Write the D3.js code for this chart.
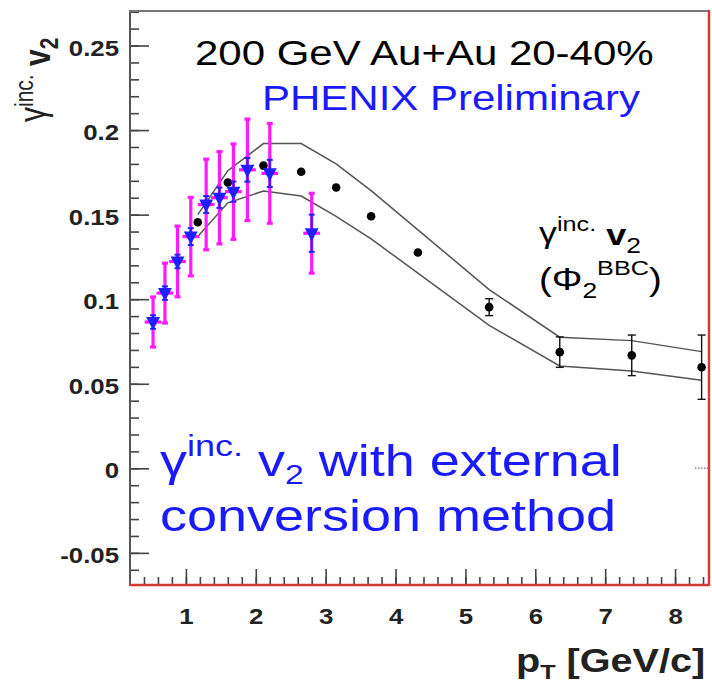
<!DOCTYPE html>
<html>
<head>
<meta charset="utf-8">
<script src="https://cdn.jsdelivr.net/npm/d3@7"></script>
<style>
  body { margin: 0; background: #fff; }
  svg { display: block; font-family: "Liberation Sans", Arial, Helvetica, sans-serif; }
</style>
</head>
<body>
<script>
// Inclusive photon v2 (conventional method, black) with systematic band
const ptConv   = [1.17, 1.60, 2.11, 2.65, 3.15, 3.65, 4.32, 5.34, 6.35, 7.38, 8.38];
const v2Conv   = [0.1455, 0.169, 0.179, 0.1754, 0.166, 0.149, 0.1276, 0.0953, 0.0687, 0.0668, 0.0598];
const errConv  = [0.0015, 0.0015, 0.0015, 0.0015, 0.0015, 0.0015, 0.002, 0.005, 0.009, 0.012, 0.019];
const bandLow  = [0.137, 0.157, 0.164, 0.161, 0.149, 0.1357, 0.1154, 0.0845, 0.0605, 0.0575, 0.052];
const bandHigh = [0.150, 0.176, 0.192, 0.192, 0.180, 0.1642, 0.141, 0.1057, 0.0775, 0.0755, 0.069];

// Inclusive photon v2 with the external conversion method (blue triangles)
const ptExt    = [0.53, 0.70, 0.88, 1.07, 1.29, 1.48, 1.68, 1.88, 2.20, 2.80];
const v2Ext    = [0.0865, 0.1036, 0.1223, 0.137, 0.156, 0.160, 0.1636, 0.1765, 0.1744, 0.139];
const sysExt   = [0.0148, 0.0177, 0.0209, 0.0232, 0.0268, 0.0273, 0.0282, 0.030, 0.0295, 0.0236];
const statExt  = [0.004, 0.004, 0.004, 0.005, 0.005, 0.006, 0.006, 0.007, 0.008, 0.011];
const xErrExt  = 0.12;

// Axis ticks
const yMajor = [-0.05, 0, 0.05, 0.1, 0.15, 0.2, 0.25];
const yMinor = d3.range(-6, 28).map(d => d / 100);
const xMajor = [1, 2, 3, 4, 5, 6, 7, 8];
const xMinor = d3.range(2, 43).map(d => d / 5);

const W = 712, H = 684;
const SX = 1.2; // horizontal glyph stretch used for all text

const svg = d3.select("body").append("svg").attr("width", W).attr("height", H);
svg.append("rect").attr("width", W).attr("height", H).attr("fill", "#fff");

const x = d3.scaleLinear().domain([0.2, 8.5]).range([130, 710]);
const y = d3.scaleLinear().domain([-0.069, 0.271]).range([585, 10]);

const fmt = v => v === 0 ? "0" : String(+v.toFixed(2));

// ---- axes ----
const axY = svg.append("g").attr("transform", "translate(130,0)");
axY.append("g").call(d3.axisLeft(y).tickValues(yMinor).tickSizeInner(-9).tickSizeOuter(0).tickFormat(""));
const axYMaj = axY.append("g").call(d3.axisLeft(y).tickValues(yMajor).tickSizeInner(-19).tickSizeOuter(0).tickPadding(11).tickFormat(fmt));
axY.selectAll(".domain").remove();
axY.selectAll(".tick line").attr("stroke", "#444").attr("stroke-width", 1.6);
axYMaj.selectAll(".tick text")
  .attr("x", 0).attr("dy", null)
  .attr("transform", "translate(-11,9.5) scale(" + SX + ",1)")
  .attr("font-size", 21.5).attr("font-weight", "bold").attr("fill", "#222")
  .attr("font-family", "Liberation Sans, Arial, sans-serif");

const axX = svg.append("g").attr("transform", "translate(0,585)");
axX.append("g").call(d3.axisBottom(x).tickValues(xMinor).tickSizeInner(-8).tickSizeOuter(0).tickFormat(""));
const axXMaj = axX.append("g").call(d3.axisBottom(x).tickValues(xMajor).tickSizeInner(-16).tickSizeOuter(0).tickPadding(23).tickFormat(d3.format("d")));
axX.selectAll(".domain").remove();
axX.selectAll(".tick line").attr("stroke", "#444").attr("stroke-width", 1.6);
axXMaj.selectAll(".tick text")
  .attr("y", 0).attr("dy", null)
  .attr("transform", "translate(0,39) scale(" + SX + ",1)")
  .attr("font-size", 21.5).attr("font-weight", "bold").attr("fill", "#222")
  .attr("font-family", "Liberation Sans, Arial, sans-serif");

// small dotted mark at zero on the right edge
svg.append("line")
  .attr("x1", 695).attr("x2", 708).attr("y1", y(0)).attr("y2", y(0))
  .attr("stroke", "#888").attr("stroke-width", 1.5).attr("stroke-dasharray", "1.5,1.5");

// ---- frame ----
svg.append("line").attr("x1", 130).attr("x2", 130).attr("y1", 10).attr("y2", 586).attr("stroke", "#555").attr("stroke-width", 2);
svg.append("line").attr("x1", 129).attr("x2", 710).attr("y1", 11).attr("y2", 11).attr("stroke", "#777").attr("stroke-width", 2);
svg.append("line").attr("x1", 129).attr("x2", 710).attr("y1", 585).attr("y2", 585).attr("stroke", "#d33a36").attr("stroke-width", 2.5);
svg.append("line").attr("x1", 709).attr("x2", 709).attr("y1", 10).attr("y2", 586).attr("stroke", "#d33a36").attr("stroke-width", 2.5);

// ---- systematic band of the conventional measurement ----
const plot = svg.append("g");
const band = ptConv.map((p, i) => ({ p, lo: bandLow[i], hi: bandHigh[i] }));
const lineLo = d3.line().x(d => x(d.p)).y(d => y(d.lo));
const lineHi = d3.line().x(d => x(d.p)).y(d => y(d.hi));
plot.append("path").attr("d", lineLo(band)).attr("fill", "none").attr("stroke", "#555").attr("stroke-width", 1.5);
plot.append("path").attr("d", lineHi(band)).attr("fill", "none").attr("stroke", "#555").attr("stroke-width", 1.5);

// ---- conventional points ----
const R = 4.3;
const conv = ptConv.map((p, i) => ({ p, v: v2Conv[i], e: errConv[i] }));
const gc = plot.append("g").attr("stroke", "#111").attr("stroke-width", 1.4);
conv.forEach(d => {
  const cx = x(d.p), top = y(d.v + d.e), bot = y(d.v - d.e);
  gc.append("line").attr("x1", cx).attr("x2", cx).attr("y1", bot).attr("y2", top);
  if (bot - y(d.v) > R + 1) { // caps only where the bar reaches past the marker
    gc.append("line").attr("x1", cx - 4).attr("x2", cx + 4).attr("y1", bot).attr("y2", bot);
    gc.append("line").attr("x1", cx - 4).attr("x2", cx + 4).attr("y1", top).attr("y2", top);
  }
});
plot.append("g").selectAll("circle").data(conv).join("circle")
  .attr("cx", d => x(d.p)).attr("cy", d => y(d.v)).attr("r", R).attr("fill", "#000");

// ---- external conversion points ----
const ext = ptExt.map((p, i) => ({ p, v: v2Ext[i], s: sysExt[i], st: statExt[i] }));
const gm = plot.append("g").attr("stroke", "#ff1aff").attr("stroke-width", 3.2);
ext.forEach(d => {
  const cx = x(d.p);
  gm.append("line").attr("x1", cx).attr("x2", cx).attr("y1", y(d.v - d.s)).attr("y2", y(d.v + d.s));
  gm.append("line").attr("x1", cx - 3).attr("x2", cx + 3).attr("y1", y(d.v + d.s)).attr("y2", y(d.v + d.s));
  gm.append("line").attr("x1", cx - 3).attr("x2", cx + 3).attr("y1", y(d.v - d.s)).attr("y2", y(d.v - d.s));
  gm.append("line").attr("x1", x(d.p - xErrExt)).attr("x2", x(d.p + xErrExt)).attr("y1", y(d.v)).attr("y2", y(d.v));
});
const gb = plot.append("g").attr("stroke", "#2222ff").attr("stroke-width", 2);
ext.forEach(d => {
  const cx = x(d.p);
  gb.append("line").attr("x1", cx).attr("x2", cx).attr("y1", y(d.v - d.st)).attr("y2", y(d.v + d.st));
  gb.append("line").attr("x1", cx - 3).attr("x2", cx + 3).attr("y1", y(d.v + d.st)).attr("y2", y(d.v + d.st));
  gb.append("line").attr("x1", cx - 3).attr("x2", cx + 3).attr("y1", y(d.v - d.st)).attr("y2", y(d.v - d.st));
});
plot.append("g").selectAll("path").data(ext).join("path")
  .attr("transform", d => "translate(" + x(d.p) + "," + y(d.v) + ")")
  .attr("d", "M-7,-5L7,-5L0,8Z")
  .attr("fill", "#1f1fff");

// ---- text helper: stretched text made of tspans ----
function label(px, py, parts, color, rotate) {
  const g = svg.append("g")
    .attr("transform", "translate(" + px + "," + py + ") scale(" + SX + ",1)" + (rotate ? " rotate(-90)" : ""));
  const t = g.append("text").attr("fill", color).attr("font-family", "Liberation Sans, Arial, sans-serif");
  parts.forEach(p => {
    t.append("tspan")
      .attr("font-size", p.size)
      .attr("font-weight", p.bold ? "bold" : "normal")
      .attr("dy", p.dy || 0)
      .attr("dx", p.dx || 0)
      .text(p.t);
  });
  return t;
}

label(195, 65, [{ t: "200 GeV Au+Au 20-40%", size: 35 }], "#000");
label(262, 110, [{ t: "PHENIX Preliminary", size: 35 }], "#1a1aff");

label(539, 245, [
  { t: "γ", size: 30, dy: -2 },
  { t: "inc.", size: 21, dy: -12 },
  { t: " v", size: 30, bold: true, dy: 14 },
  { t: "2", size: 22, dy: 8 }
], "#000");
label(539, 290, [
  { t: "(Φ", size: 32 },
  { t: "2", size: 22, dy: 8 },
  { t: "BBC", size: 21, dy: -23 },
  { t: ")", size: 32, dy: 15 }
], "#000");

label(160, 476, [
  { t: "γ", size: 45 },
  { t: "inc.", size: 30, dy: -20 },
  { t: " v", size: 45, dy: 20 },
  { t: "2", size: 28, dy: 8 },
  { t: " with external", size: 45, dy: -8 }
], "#1a1aff");
label(160, 531, [{ t: "conversion method", size: 45 }], "#1a1aff");

label(516, 672, [
  { t: "p", size: 33, bold: true },
  { t: "T", size: 21, bold: true, dy: 7 },
  { t: " [GeV/c]", size: 33, bold: true, dy: -7 }
], "#222");

label(50, 122, [
  { t: "γ", size: 30, dy: -4 },
  { t: "inc.", size: 21, dy: -10 },
  { t: " v", size: 30, bold: true, dy: 14 },
  { t: "2", size: 21, bold: true, dy: 7 }
], "#222", true);
</script>
</body>
</html>
